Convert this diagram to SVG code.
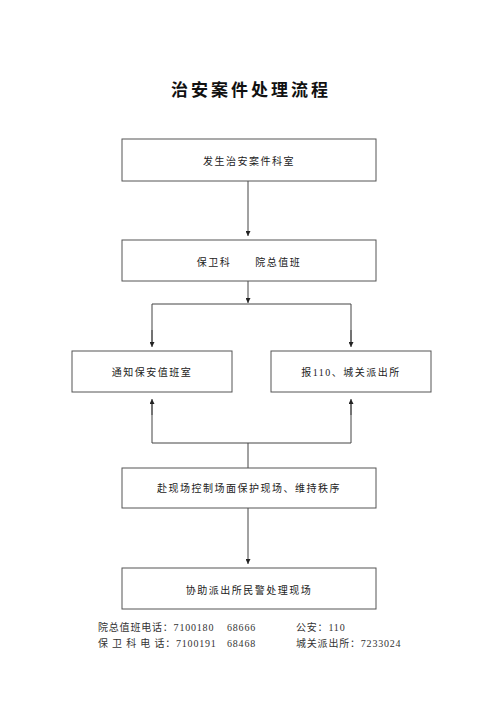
<svg xmlns="http://www.w3.org/2000/svg" width="500" height="707" viewBox="0 0 500 707">
<style>
.box{fill:#fff;stroke:#555;stroke-width:1}
.t{font-family:"Liberation Serif","Noto Sans CJK SC",serif;font-size:10px;fill:#222;text-anchor:middle;letter-spacing:1.5px}
.title{font-family:"Liberation Serif","Noto Sans CJK SC",serif;font-size:17px;font-weight:bold;fill:#111;text-anchor:middle;letter-spacing:3px}
.f{font-family:"Liberation Serif","Noto Sans CJK SC",serif;font-size:10px;fill:#333;letter-spacing:0.8px}
.c{fill:none;stroke:#444;stroke-width:1}
</style>
<defs>
<marker id="ah" viewBox="0 0 10 10" refX="10" refY="5" markerWidth="5" markerHeight="5" orient="auto" markerUnits="userSpaceOnUse">
<path d="M0,0 L10,5 L0,10 z" fill="#222"/>
</marker>
</defs>
<rect width="500" height="707" fill="#fff"/>
<text class="title" x="251" y="96">治安案件处理流程</text>
<g id="connectors">
<line class="c" x1="248" y1="181" x2="248" y2="236" marker-end="url(#ah)"/>
<line class="c" x1="248" y1="281" x2="248" y2="303" marker-end="url(#ah)"/>
<polyline class="c" points="152,345 152,304 351,304 351,345" marker-start="none"/>
<line class="c" x1="152" y1="330" x2="152" y2="347" marker-end="url(#ah)"/>
<line class="c" x1="351" y1="330" x2="351" y2="347" marker-end="url(#ah)"/>
<polyline class="c" points="152,402 152,443 351,443 351,402"/>
<line class="c" x1="152" y1="415" x2="152" y2="399" marker-end="url(#ah)"/>
<line class="c" x1="351" y1="415" x2="351" y2="399" marker-end="url(#ah)"/>
<line class="c" x1="248" y1="443" x2="248" y2="468"/>
<line class="c" x1="248" y1="508" x2="248" y2="564" marker-end="url(#ah)"/>
</g>
<g id="n1"><rect class="box" x="122" y="139" width="254" height="42"/><text class="t" x="249" y="165">发生治安案件科室</text></g>
<g id="n2"><rect class="box" x="122" y="240" width="254" height="41"/><text class="t" x="249" y="266" xml:space="preserve">保卫科      院总值班</text></g>
<g id="n3"><rect class="box" x="72" y="351" width="160" height="41"/><text class="t" x="152" y="376">通知保安值班室</text></g>
<g id="n4"><rect class="box" x="271" y="351" width="160" height="41"/><text class="t" x="351" y="376">报110、城关派出所</text></g>
<g id="n5"><rect class="box" x="122" y="468" width="254" height="40"/><text class="t" x="249" y="492">赴现场控制场面保护现场、维持秩序</text></g>
<g id="n6"><rect class="box" x="122" y="568" width="254" height="41"/><text class="t" x="249" y="594">协助派出所民警处理现场</text></g>
<g id="footer">
<text class="f" x="98" y="631">院总值班电话：7100180</text>
<text class="f" x="227" y="631">68666</text>
<text class="f" x="296" y="631">公安：110</text>
<text class="f" x="98" y="647" xml:space="preserve">保 卫 科 电 话：7100191</text>
<text class="f" x="227" y="647">68468</text>
<text class="f" x="296" y="647">城关派出所：7233024</text>
</g>
</svg>
